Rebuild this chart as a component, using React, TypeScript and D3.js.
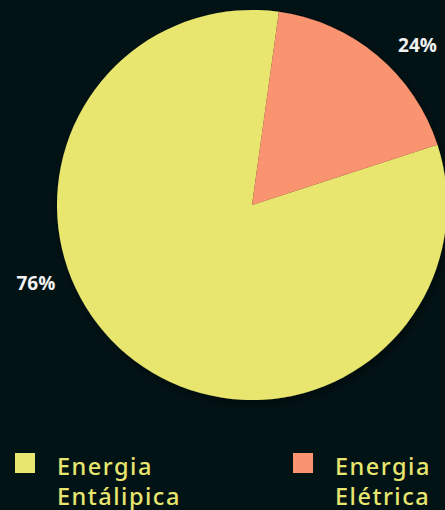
import React, { useEffect, useRef } from "react";
import * as d3 from "d3";

// slices, in drawing order (clockwise from the lower edge of the red slice)
const categories = ["Energia Entálipica", "Energia Elétrica"];
const sliceValues = [82.2, 17.8]; // angular share as drawn
const percentLabels = ["76%", "24%"];
const labelAngles = [250, 46]; // degrees clockwise from 12 o'clock
const colors = ["#e8e66e", "#fa9370"];
const legendLines = [["Energia", "Entálipica"], ["Energia", "Elétrica"]];

export default function App() {
    const svgRef = useRef<SVGSVGElement>(null);

    useEffect(() => {
        const width = 445;
        const height = 510;
        const svg = d3.select(svgRef.current);
        svg.selectAll("*").remove();

        svg.append("rect")
            .attr("width", width)
            .attr("height", height)
            .attr("fill", "#021316");

        // === shadow ===
        const defs = svg.append("defs");
        const filter = defs.append("filter")
            .attr("id", "shadow")
            .attr("x", "-20%")
            .attr("y", "-20%")
            .attr("width", "140%")
            .attr("height", "140%");
        filter.append("feDropShadow")
            .attr("dx", 2)
            .attr("dy", 3)
            .attr("stdDeviation", 6)
            .attr("flood-color", "#000000")
            .attr("flood-opacity", 0.55);

        const cx = 252;
        const cy = 205;
        const radius = 195;
        const start = (72 * Math.PI) / 180;

        const pie = d3.pie<number>()
            .sort(null)
            .startAngle(start)
            .endAngle(start + 2 * Math.PI);

        const arc = d3.arc<d3.PieArcDatum<number>>()
            .innerRadius(0)
            .outerRadius(radius);

        const g = svg.append("g")
            .attr("transform", `translate(${cx},${cy})`)
            .attr("filter", "url(#shadow)");

        g.selectAll("path")
            .data(pie(sliceValues))
            .enter()
            .append("path")
            .attr("d", arc)
            .attr("fill", (d, i) => colors[i]);

        // === Percent labels ===
        const labelArc = d3.arc<any>().innerRadius(230).outerRadius(230);
        svg.append("g")
            .attr("transform", `translate(${cx},${cy})`)
            .selectAll("text")
            .data(percentLabels)
            .enter()
            .append("text")
            .attr("transform", (d, i) => {
                const a = (labelAngles[i] * Math.PI) / 180;
                const [x, y] = labelArc.centroid({ startAngle: a, endAngle: a } as any);
                return `translate(${x},${y})`;
            })
            .attr("text-anchor", "middle")
            .attr("dy", "0.35em")
            .attr("fill", "#f2f2f2")
            .attr("font-family", "'Open Sans', 'Noto Sans', sans-serif")
            .attr("font-weight", 700)
            .attr("font-size", "19px")
            .text((d) => d);

        // === Legend ===
        const legendX = d3.scaleOrdinal<string, number>()
            .domain(categories)
            .range([15, 293]);

        const legend = svg.append("g")
            .selectAll("g")
            .data(categories)
            .enter()
            .append("g")
            .attr("transform", (d) => `translate(${legendX(d)},453)`);

        legend.append("rect")
            .attr("width", 20)
            .attr("height", 20)
            .attr("fill", (d, i) => colors[i]);

        legend.append("text")
            .attr("x", 42)
            .attr("y", 22)
            .attr("fill", "#e8e66e")
            .attr("font-family", "'Noto Sans', sans-serif")
            .attr("font-weight", 500)
            .attr("font-size", "23.5px")
            .attr("letter-spacing", "1.5px")
            .selectAll("tspan")
            .data((d, i) => legendLines[i])
            .enter()
            .append("tspan")
            .attr("x", 42)
            .attr("dy", (d, i) => (i === 0 ? 0 : 30))
            .text((d) => d);
    }, []);

    return (
        <svg
            ref={svgRef}
            width={445}
            height={510}
            style={{ position: "absolute", left: 0, top: 0, display: "block" }}
        ></svg>
    );
}
